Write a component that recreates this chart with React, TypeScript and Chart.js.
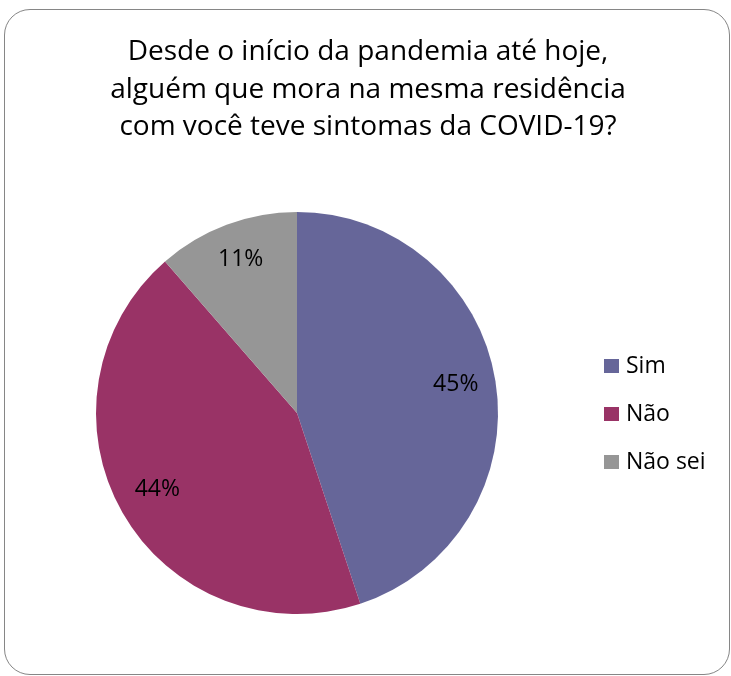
import React, { useEffect, useRef } from "react";
import { Chart, registerables } from "chart.js";

Chart.register(...registerables);

const titleLines = [
  "Desde o início da pandemia até hoje,",
  "alguém que mora na mesma residência",
  "com você teve sintomas da COVID-19?",
];
const categories = ["Sim", "Não", "Não sei"];
const values = [44.9, 43.7, 11.4];
const valueLabels = ["45%", "44%", "11%"];
const colors = ["#666699", "#993366", "#969696"];

const FONT = "'Open Sans', Lato, sans-serif";
const W = 731;
const H = 676;

const overlayPlugin = {
  id: "overlay",
  afterDatasetsDraw(chart: any) {
    const ctx = chart.ctx as CanvasRenderingContext2D;
    const meta = chart.getDatasetMeta(0);
    ctx.save();
    ctx.fillStyle = "#000000";

    // title
    ctx.font = `28px ${FONT}`;
    ctx.textAlign = "center";
    ctx.textBaseline = "alphabetic";
    titleLines.forEach((line, i) => {
      ctx.fillText(line, 368, 60 + i * 37.5);
    });

    // value labels
    ctx.font = `23px ${FONT}`;
    ctx.textBaseline = "middle";
    meta.data.forEach((arc: any, i: number) => {
      const p = arc.getProps(["x", "y", "startAngle", "endAngle", "outerRadius"], true);
      const mid = (p.startAngle + p.endAngle) / 2;
      const r = p.outerRadius * 0.8;
      ctx.fillText(valueLabels[i], p.x + r * Math.cos(mid), p.y + r * Math.sin(mid) - 3);
    });

    // legend
    const area = chart.chartArea;
    const lx = area.right + 106;
    const ly0 = 366;
    const step = 48;
    ctx.textAlign = "left";
    ctx.font = `23px ${FONT}`;
    categories.forEach((c, i) => {
      const cy = ly0 + i * step;
      ctx.fillStyle = colors[i];
      ctx.fillRect(lx, cy - 7, 15, 14);
      ctx.fillStyle = "#000000";
      ctx.fillText(c, lx + 22, cy);
    });
    ctx.restore();
  },
};

export default function App() {
  const ref = useRef<HTMLCanvasElement>(null);
  useEffect(() => {
    if (!ref.current) return;
    const chart = new Chart(ref.current, {
      type: "pie",
      data: {
        labels: categories,
        datasets: [
          {
            data: values,
            backgroundColor: colors,
            borderWidth: 0,
          },
        ],
      },
      options: {
        responsive: false,
        animation: false,
        layout: { padding: { left: 96, right: 233, top: 212, bottom: 62 } },
        plugins: {
          legend: { display: false },
          title: { display: false },
          tooltip: { enabled: false },
        },
      },
      plugins: [overlayPlugin],
    });
    return () => chart.destroy();
  }, []);

  return (
    <div style={{ position: "fixed", left: 0, top: 0, width: W, height: H, background: "#ffffff" }}>
      <div
        style={{
          position: "absolute",
          left: 4,
          top: 9,
          width: 726,
          height: 666,
          border: "1px solid #868686",
          borderRadius: 26,
          boxSizing: "border-box",
        }}
      />
      <canvas ref={ref} width={W} height={H} style={{ position: "absolute", left: 0, top: 0 }} />
    </div>
  );
}
